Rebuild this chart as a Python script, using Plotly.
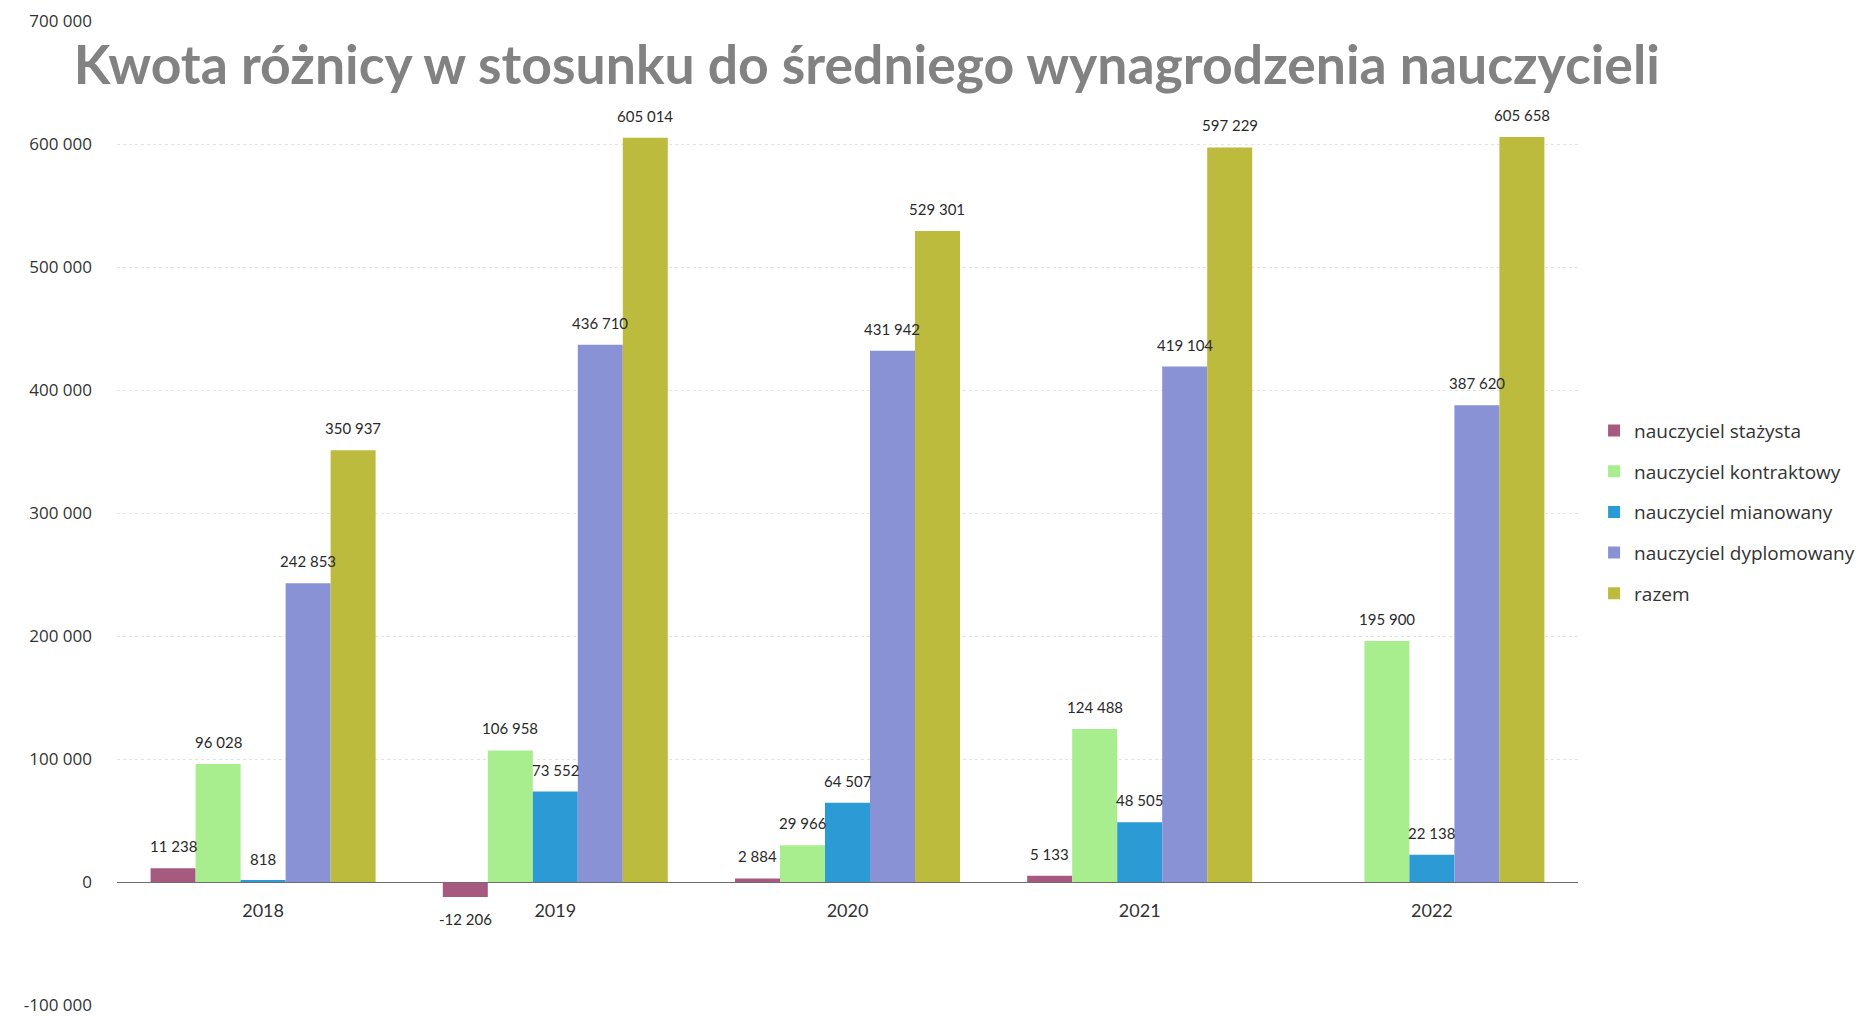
import plotly.graph_objects as go

years = ["2018", "2019", "2020", "2021", "2022"]
series_names = ["nauczyciel stażysta", "nauczyciel kontraktowy", "nauczyciel mianowany",
                "nauczyciel dyplomowany", "razem"]
stazysta = [11238, -12206, 2884, 5133, None]
kontraktowy = [96028, 106958, 29966, 124488, 195900]
mianowany = [818, 73552, 64507, 48505, 22138]
dyplomowany = [242853, 436710, 431942, 419104, 387620]
razem = [350937, 605014, 529301, 597229, 605658]
colors = ["#A65A80", "#A9EE8E", "#2C9BD5", "#8A92D6", "#BDBB3E"]
ytick_vals = [-100000, 0, 100000, 200000, 300000, 400000, 500000, 600000, 700000]

def fmt(v):
    if v is None:
        return ""
    s = f"{abs(v):,}".replace(",", " ")
    return ("-" if v < 0 else "") + s

W, H = 1860, 1017
ML, MR, MT, MB = 117, 282, 21, 12
BARGAP = 0.23
all_series = [stazysta, kontraktowy, mianowany, dyplomowany, razem]
n_series = len(all_series)
cat_px = (W - ML - MR) / len(years)
bar_px = (1 - BARGAP) * cat_px / n_series

fig = go.Figure()
for i, (name, vals) in enumerate(zip(series_names, all_series)):
    fig.add_trace(go.Bar(
        x=years, y=vals, name=name, marker_color=colors[i], marker_line_width=0,
        legendgroup=str(i),
    ))
    for j, v in enumerate(vals):
        if v is None:
            continue
        fig.add_annotation(
            x=j, y=v, text=fmt(v), showarrow=False,
            xshift=(i - (n_series - 1) / 2) * bar_px,
            yanchor="bottom" if v >= 0 else "top",
            yshift=11 if v >= 0 else -11,
            font=dict(family="Lato", size=15, color="#2A2A2A"),
        )

fig.update_layout(
    width=W, height=H,
    margin=dict(l=ML, r=MR, t=MT, b=MB, autoexpand=False),
    paper_bgcolor="white", plot_bgcolor="white",
    barmode="group", bargap=BARGAP, bargroupgap=0,
    title=dict(text="<b>Kwota różnicy w stosunku do średniego wynagrodzenia nauczycieli</b>",
               font=dict(family="Lato", size=53.5, color="#828282"),
               xref="container", x=0.466, xanchor="center", yref="container", y=0.936, yanchor="middle"),
    legend=dict(x=1.011, y=0.603, xanchor="left", yanchor="top", traceorder="grouped",
                tracegroupgap=13, font=dict(family="Open Sans", size=19, color="#333333"),
                bgcolor="rgba(0,0,0,0)", itemwidth=30),
    showlegend=True,
)
fig.update_yaxes(range=[-100000, 700000], tickvals=ytick_vals, ticktext=[fmt(v) for v in ytick_vals],
                 showgrid=True, gridcolor="#E4E4E4", griddash="dot", zeroline=False,
                 tickfont=dict(family="Open Sans", size=17, color="#333333"),
                 ticklabelstandoff=24, showline=False, automargin=False)
fig.update_xaxes(type="category", range=[-0.5, len(years) - 0.5], anchor="free", position=0.125,
                 showline=True, linecolor="#6E6E6E", linewidth=1,
                 tickfont=dict(family="Lato", size=18, color="#333333"),
                 ticks="", ticklabelstandoff=12, showgrid=False, automargin=False)

fig.write_html("out.html")
